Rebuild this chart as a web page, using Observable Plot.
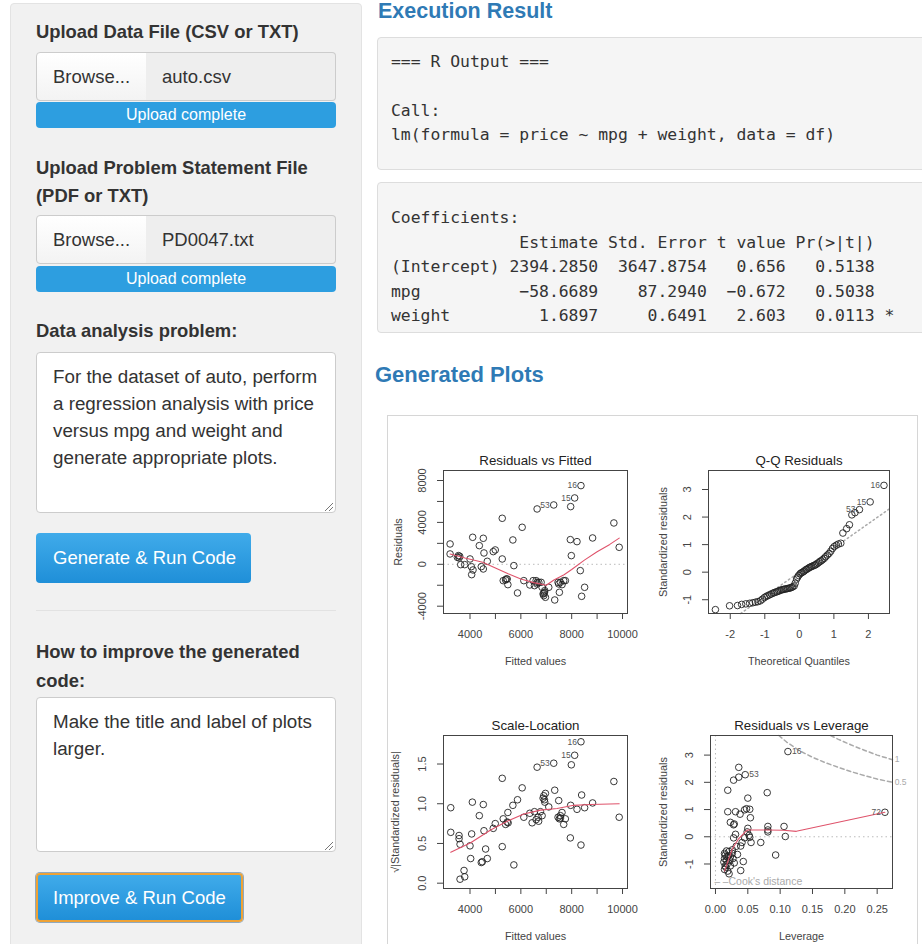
<!DOCTYPE html>
<html><head><meta charset="utf-8">
<script src="https://cdn.jsdelivr.net/npm/d3@7"></script>
<script src="https://cdn.jsdelivr.net/npm/@observablehq/plot@0.6"></script>
<style>
html,body{margin:0;padding:0}
body{width:922px;height:944px;overflow:hidden;background:#fff;font-family:"Liberation Sans",Arial,sans-serif;color:#333;position:relative}
.a{position:absolute;white-space:nowrap}
.panel{position:absolute;left:10px;top:3px;width:352px;height:990px;background:#f1f1f1;border:1px solid #e3e3e3;border-radius:4px;box-sizing:border-box}
.lbl{position:absolute;left:36px;font-weight:bold;font-size:18.4px;line-height:24px;color:#333;white-space:nowrap}
.browse{position:absolute;left:36px;width:111px;height:49px;border:1px solid #ccc;border-radius:4px 0 0 4px;background:linear-gradient(#fff,#f3f3f3);font-size:18.5px;line-height:47px;padding-left:16px;box-sizing:border-box;color:#333}
.fname{position:absolute;left:146px;width:190px;height:49px;border:1px solid #ccc;border-left:none;border-radius:0 4px 4px 0;background:#eee;font-size:18.5px;line-height:47px;padding-left:16px;box-sizing:border-box;color:#333}
.prog{position:absolute;left:36px;width:300px;height:26px;background:#2d9ee0;border-radius:4px;color:#fff;font-size:16px;line-height:26px;text-align:center}
.ta{position:absolute;left:36px;width:300px;border:1px solid #ccc;border-radius:4px;background:#fff;font-size:18.8px;line-height:27px;padding:9.5px 16px;box-sizing:border-box;color:#333;white-space:nowrap}
.btn{position:absolute;left:36px;border-radius:4px;color:#fff;font-size:18.5px;padding-left:17px;box-sizing:border-box;background:linear-gradient(#40abea,#1f8fd8);white-space:nowrap}
.pre{position:absolute;left:377px;width:600px;background:#f5f5f5;border:1px solid #ddd;border-radius:4px;font-family:"DejaVu Sans Mono",monospace;font-size:16.4px;line-height:24.5px;color:#333;padding:0 13px;margin:0;white-space:pre;overflow:hidden;box-sizing:border-box}
.h{position:absolute;font-weight:bold;color:#2f7ab5;white-space:nowrap}
.plotwrap{position:absolute}
</style></head>
<body>
<div class="panel"></div>
<div class="lbl" style="top:20px">Upload Data File (CSV or TXT)</div>
<div class="browse" style="top:52px">Browse...</div>
<div class="fname" style="top:52px">auto.csv</div>
<div class="prog" style="top:102px">Upload complete</div>
<div class="lbl" style="top:154px;line-height:28px">Upload Problem Statement File<br>(PDF or TXT)</div>
<div class="browse" style="top:215px">Browse...</div>
<div class="fname" style="top:215px">PD0047.txt</div>
<div class="prog" style="top:266px">Upload complete</div>
<div class="lbl" style="top:319px">Data analysis problem:</div>
<div class="ta" style="top:352px;height:161px">For the dataset of auto, perform<br>a regression analysis with price<br>versus mpg and weight and<br>generate appropriate plots.</div>
<svg class="a" style="left:322px;top:500px" width="12" height="12"><path d="M11 3 L3 11 M11 7 L7 11" stroke="#777" stroke-width="1"/></svg>
<div class="btn" style="top:533px;width:215px;height:50px;line-height:50px">Generate &amp; Run Code</div>
<div class="a" style="left:36px;top:610px;width:300px;height:1px;background:#e2e2e2"></div>
<div class="lbl" style="top:636.5px;line-height:29px">How to improve the generated<br>code:</div>
<div class="ta" style="top:697px;height:155px">Make the title and label of plots<br>larger.</div>
<svg class="a" style="left:322px;top:839px" width="12" height="12"><path d="M11 3 L3 11 M11 7 L7 11" stroke="#777" stroke-width="1"/></svg>
<div class="btn" style="top:873px;width:207px;height:49px;line-height:45px;border:2px solid #eea236;box-shadow:0 0 0 1px #8fa9bf;padding-left:15px">Improve &amp; Run Code</div>

<div class="h" style="left:378px;top:-1px;font-size:21.5px;line-height:24px">Execution Result</div>
<pre class="pre" style="top:37px;height:133px;padding-top:11.75px">=== R Output ===

Call:
lm(formula = price ~ mpg + weight, data = df)</pre>
<pre class="pre" style="top:182px;height:151px;padding-top:23px">Coefficients:
             Estimate Std. Error t value Pr(>|t|)  
(Intercept) 2394.2850  3647.8754   0.656   0.5138  
mpg          −58.6689    87.2940  −0.672   0.5038  
weight         1.6897     0.6491   2.603   0.0113 *</pre>
<div class="h" style="left:375px;top:362px;font-size:22px;line-height:26px">Generated Plots</div>
<div class="a" style="left:387px;top:415px;width:531px;height:560px;background:#fff;border:1px solid #d6d6d6;box-sizing:border-box"></div>
<div id="p1" class="plotwrap" style="left:390px;top:440px"></div>
<div id="p2" class="plotwrap" style="left:652px;top:440px"></div>
<div id="p3" class="plotwrap" style="left:390px;top:710px"></div>
<div id="p4" class="plotwrap" style="left:652px;top:710px"></div>

<script>
// ---------- Residuals vs Fitted ----------
const rfFitted = [3216,3216,3543,3569,3503,3634,3791,4000,4052,4118,4065,4105,4366,4523,4549,4444,4523,4680,4915,4993,5268,5268,5307,5425,5464,5490,5686,5725,5869,6052,6117,6353,6483,6536,6601,6640,6706,6640,6797,6836,6875,6902,6928,6967,6941,7098,7294,7333,7464,7516,7555,7620,7686,7751,7960,7947,7986,8117,8209,8339,8365,8392,8509,8823,9660,9869,6902,7490,5399,3595,6640];
const rfResid = [1942,987,828,605,668,-32,-32,509,-223,-541,-987,2578,1782,2483,1082,-223,-446,286,1210,1369,4393,509,-1560,-1401,-1401,-1942,2324,-127,-2737,3533,-1560,-1973,-1560,-2037,-1560,-1878,-1719,5284,-1719,-2196,-2833,-2992,-2674,-3151,-2515,-2196,5666,-3406,-1719,-2674,-1719,-1942,-1560,-1560,5507,2355,828,6334,2164,-605,7512,-3056,-2196,2515,3947,1623,-2770,-1878,-1496,764,-1719];
const rfSmoothX = [3216,3800,4500,5000,5500,6000,6500,7000,7300,7700,8000,8500,9000,9500,9869];
const rfSmoothY = [987,600,200,-350,-900,-1400,-1750,-2000,-1500,-1000,-500,400,1200,1900,2500];
const idLabels = ["53","15","16"];
const rfLabelX = [7294,8117,8365];
const rfLabelY = [5666,6334,7512];

// ---------- Q-Q Residuals ----------
const qqTheo = [-2.43,-2.02,-1.79,-1.67,-1.55,-1.44,-1.35,-1.27,-1.20,-1.13,-1.07,-1.01,-0.96,-0.91,-0.86,-0.81,-0.76,-0.72,-0.67,-0.63,-0.59,-0.55,-0.51,-0.47,-0.44,-0.40,-0.36,-0.33,-0.29,-0.26,-0.22,-0.19,-0.15,-0.12,-0.08,-0.05,-0.02,0.02,0.05,0.08,0.12,0.15,0.19,0.22,0.26,0.29,0.33,0.36,0.40,0.44,0.47,0.51,0.55,0.59,0.63,0.67,0.72,0.76,0.81,0.86,0.91,0.96,1.01,1.07,1.13,1.20,1.26,1.37,1.45,1.52,1.61,1.74,2.05,2.45];
const qqStd = [-1.36,-1.22,-1.21,-1.17,-1.15,-1.13,-1.11,-1.09,-1.07,-1.04,-0.98,-0.92,-0.88,-0.85,-0.82,-0.79,-0.76,-0.74,-0.72,-0.70,-0.68,-0.66,-0.64,-0.63,-0.62,-0.61,-0.60,-0.59,-0.58,-0.57,-0.55,-0.53,-0.50,-0.40,-0.25,-0.18,-0.12,-0.06,-0.03,-0.01,0.02,0.05,0.09,0.11,0.14,0.17,0.19,0.21,0.23,0.25,0.27,0.30,0.34,0.38,0.41,0.45,0.50,0.56,0.62,0.68,0.76,0.86,0.93,0.98,1.02,1.05,1.42,1.58,1.72,2.08,2.16,2.27,2.55,3.15];
const qqLineX = [-1.70,2.61];
const qqLineY = [-1.50,2.30];
const qqLabelX = [1.74,2.05,2.45];
const qqLabelY = [2.27,2.55,3.15];

// ---------- Scale-Location ----------
const slFitted = [3242,3242,3569,3569,3608,3608,3765,3791,4000,4065,4092,4026,4366,4444,4484,4523,4549,4614,4680,4915,4993,5268,5268,5307,5399,5464,5490,5686,5725,5869,6052,6117,6353,6444,6536,6601,6640,6679,6771,6836,6875,6902,6928,6967,6941,7098,7294,7333,7464,7490,7516,7555,7620,7686,7751,7960,7947,7986,8117,8209,8365,8365,8392,8509,8823,9660,9869,5500,6700,7560];
const slSqrt = [0.95,0.64,0.60,0.56,0.49,0.05,0.16,0.08,0.47,0.62,1.02,0.31,0.85,0.26,0.27,0.99,0.66,0.43,0.31,0.69,0.75,1.32,0.46,0.81,0.74,0.77,0.89,0.98,0.23,1.05,1.20,0.83,0.88,0.76,0.90,0.80,1.46,0.83,0.90,0.85,1.07,1.10,1.05,1.13,1.02,0.96,1.51,1.17,0.83,1.04,0.81,0.85,0.89,0.74,0.81,0.98,0.57,1.49,1.61,0.93,1.78,0.48,1.11,0.95,1.01,1.28,0.83,0.76,0.78,0.82];
const slSmoothX = [3242,4026,4810,5464,6117,6771,7425,8078,8731,9869];
const slSmoothY = [0.39,0.51,0.67,0.78,0.87,0.92,0.94,0.98,0.99,1.00];
const slLabelX = [7294,8117,8365];
const slLabelY = [1.51,1.61,1.78];

// ---------- Residuals vs Leverage ----------
const lvLev = [0.112,0.046,0.262,0.036,0.028,0.036,0.019,0.050,0.080,0.019,0.031,0.038,0.045,0.048,0.053,0.054,0.023,0.028,0.029,0.031,0.028,0.039,0.041,0.045,0.049,0.050,0.052,0.053,0.055,0.070,0.081,0.081,0.081,0.093,0.106,0.108,0.043,0.039,0.014,0.015,0.014,0.017,0.018,0.015,0.014,0.019,0.021,0.023,0.023,0.026,0.027,0.029,0.022,0.018,0.013,0.021,0.026,0.017,0.034,0.032,0.016,0.020];
const lvStd = [3.13,2.28,0.90,2.55,2.08,2.19,1.71,1.42,1.62,0.92,0.92,0.83,0.99,1.03,1.01,0.70,0.53,0.44,0.47,0.09,-0.04,-0.34,-0.21,-0.04,0.18,0.31,0.05,-0.02,-0.21,-0.21,0.38,0.25,0.18,-0.67,0.38,0.01,-0.91,-1.24,-0.61,-0.67,-0.80,-0.87,-1.00,-1.07,-1.20,-1.26,-1.36,-1.07,-0.74,-0.61,-0.80,-0.96,-0.87,-0.74,-0.93,-0.54,-0.48,-0.52,-0.65,-0.35,-1.12,-0.70];
const lvSmoothX = [0.014,0.020,0.026,0.035,0.046,0.050,0.080,0.105,0.125,0.262];
const lvSmoothY = [-1.26,-0.85,-0.45,-0.10,0.18,0.25,0.25,0.24,0.20,0.90];
const cook05X = [0.098,0.11,0.13,0.15,0.17,0.19,0.21,0.23,0.25,0.2737];
const cook05Y = [3.72,3.48,3.16,2.92,2.72,2.55,2.39,2.25,2.12,2.00];
const cook1X = [0.178,0.19,0.21,0.23,0.25,0.2737];
const cook1Y = [3.72,3.58,3.37,3.18,3.00,2.83];
const cookLevels = ["1","0.5"];
const cookLabelX = [0.277,0.277];
const cookLabelY = [2.83,2.00];
const lvRightIds = ["16","53"];
const lvRightX = [0.112,0.046];
const lvRightY = [3.13,2.28];
const lvLeftIds = ["72"];
const lvLeftX = [0.262];
const lvLeftY = [0.90];

// ---------- Ticks ----------
const fitTicks = [4000,5000,6000,7000,8000,9000,10000];
const fitTickLabels = [4000,6000,8000,10000];
const rfYTicks = [-4000,-2000,0,2000,4000,6000,8000];
const rfYTickLabels = [-4000,0,4000,8000];
const qqXTicks = [-2,-1,0,1,2];
const qqYTicks = [-1,0,1,2,3];
const slYTicks = [0,0.5,1,1.5];
const lvXTicks = [0,0.05,0.1,0.15,0.2,0.25];
const lvYTicks = [-1,0,1,2,3];

const RED = "#DF536B";
const idx = (a) => a.map((_, i) => i);
const C = {textAnchor: "middle", lineAnchor: "middle"};

function rplot(o) {
  const fx = o.xFmt || (d => String(d));
  const fy = o.yFmt || (d => String(d));
  return Plot.plot({
    width: o.w, height: o.h,
    marginLeft: o.ml, marginRight: o.mr, marginTop: o.mt, marginBottom: o.mb,
    x: {domain: o.xd, label: null},
    y: {domain: o.yd, label: null},
    style: {fontFamily: "'Liberation Sans', Arial, sans-serif", fontSize: "11px", color: "#333", background: "transparent", overflow: "visible"},
    marks: [
      ...o.marks,
      Plot.frame({stroke: "#444", strokeWidth: 1}),
      Plot.axisX({ticks: o.xt, tickSize: 6, tickFormat: () => "", stroke: "#444", label: null}),
      Plot.axisY({ticks: o.yt, tickSize: 6, tickFormat: () => "", stroke: "#444", label: null}),
      Plot.text(o.xl, {x: d => d, frameAnchor: "bottom", dy: 21, text: fx, fontSize: 11, fill: "#444", ...C}),
      Plot.text(o.yl, {y: d => d, frameAnchor: "left", dx: -21, rotate: -90, text: fy, fontSize: 11, fill: "#444", ...C}),
      Plot.text([o.title], {frameAnchor: "top", dy: -10, text: d => d, fontSize: 13.3, fill: "#222", ...C}),
      Plot.text([o.xlab], {frameAnchor: "bottom", dy: 48, text: d => d, fontSize: 10.8, fill: "#444", ...C}),
      Plot.text([o.ylab], {frameAnchor: "left", dx: o.ylabDx, rotate: -90, text: d => d, fontSize: 10.8, fill: "#444", ...C})
    ]
  });
}

const dotOpts = {r: 3.3, stroke: "#222", strokeWidth: 0.9, fill: "none"};
const idOpts = {fontSize: 8.5, fill: "#555", lineAnchor: "middle"};

// Plot 1
document.getElementById("p1").append(rplot({
  w: 262, h: 240, ml: 53, mr: 25, mt: 30, mb: 67,
  xd: [2957, 10196], yd: [-4697, 8955],
  xt: fitTicks, xl: fitTickLabels, yt: rfYTicks, yl: rfYTickLabels,
  title: "Residuals vs Fitted", xlab: "Fitted values", ylab: "Residuals", ylabDx: -45,
  marks: [
    Plot.ruleY([0], {stroke: "#bbb", strokeDasharray: "1.5,3"}),
    Plot.dot(idx(rfFitted), {x: i => rfFitted[i], y: i => rfResid[i], ...dotOpts}),
    Plot.line(idx(rfSmoothX), {x: i => rfSmoothX[i], y: i => rfSmoothY[i], stroke: RED, strokeWidth: 1.1}),
    Plot.text(idx(idLabels), {x: i => rfLabelX[i], y: i => rfLabelY[i], text: i => idLabels[i], textAnchor: "end", dx: -4, ...idOpts})
  ]
}));

// Plot 2
document.getElementById("p2").append(rplot({
  w: 262, h: 240, ml: 56, mr: 25, mt: 30, mb: 67,
  xd: [-2.63, 2.61], yd: [-1.50, 3.69],
  xt: qqXTicks, xl: qqXTicks, yt: qqYTicks, yl: qqYTicks,
  title: "Q-Q Residuals", xlab: "Theoretical Quantiles", ylab: "Standardized residuals", ylabDx: -45,
  marks: [
    Plot.line(idx(qqLineX), {x: i => qqLineX[i], y: i => qqLineY[i], stroke: "#aaa", strokeDasharray: "1.5,3"}),
    Plot.dot(idx(qqTheo), {x: i => qqTheo[i], y: i => qqStd[i], ...dotOpts}),
    Plot.text(idx(idLabels), {x: i => qqLabelX[i], y: i => qqLabelY[i], text: i => idLabels[i], textAnchor: "end", dx: -4, ...idOpts})
  ]
}));

// Plot 3
document.getElementById("p3").append(rplot({
  w: 262, h: 234, ml: 53, mr: 25, mt: 25, mb: 56,
  xd: [2957, 10196], yd: [-0.067, 1.859],
  xt: fitTicks, xl: fitTickLabels, yt: slYTicks, yl: slYTicks, yFmt: d => d.toFixed(1),
  title: "Scale-Location", xlab: "Fitted values", ylab: "√|Standardized residuals|", ylabDx: -48,
  marks: [
    Plot.dot(idx(slFitted), {x: i => slFitted[i], y: i => slSqrt[i], ...dotOpts}),
    Plot.line(idx(slSmoothX), {x: i => slSmoothX[i], y: i => slSmoothY[i], stroke: RED, strokeWidth: 1.1}),
    Plot.text(idx(idLabels), {x: i => slLabelX[i], y: i => slLabelY[i], text: i => idLabels[i], textAnchor: "end", dx: -4, ...idOpts})
  ]
}));

// Plot 4
document.getElementById("p4").append(rplot({
  w: 262, h: 234, ml: 58, mr: 22, mt: 25, mb: 56,
  xd: [-0.0077, 0.2737], yd: [-1.90, 3.72],
  xt: lvXTicks, xl: lvXTicks, yt: lvYTicks, yl: lvYTicks, xFmt: d => d.toFixed(2),
  title: "Residuals vs Leverage", xlab: "Leverage", ylab: "Standardized residuals", ylabDx: -47,
  marks: [
    Plot.ruleY([0], {stroke: "#bbb", strokeDasharray: "1.5,3"}),
    Plot.ruleX([0], {stroke: "#bbb", strokeDasharray: "1.5,3"}),
    Plot.line(idx(cook05X), {x: i => cook05X[i], y: i => cook05Y[i], stroke: "#aaa", strokeDasharray: "4,3"}),
    Plot.line(idx(cook1X), {x: i => cook1X[i], y: i => cook1Y[i], stroke: "#aaa", strokeDasharray: "4,3"}),
    Plot.text(idx(cookLevels), {x: i => cookLabelX[i], y: i => cookLabelY[i], text: i => cookLevels[i], textAnchor: "start", lineAnchor: "middle", fontSize: 8.5, fill: "#aaa"}),
    Plot.dot(idx(lvLev), {x: i => lvLev[i], y: i => lvStd[i], ...dotOpts}),
    Plot.line(idx(lvSmoothX), {x: i => lvSmoothX[i], y: i => lvSmoothY[i], stroke: RED, strokeWidth: 1.1}),
    Plot.text(idx(lvRightIds), {x: i => lvRightX[i], y: i => lvRightY[i], text: i => lvRightIds[i], textAnchor: "start", dx: 4, ...idOpts}),
    Plot.text(idx(lvLeftIds), {x: i => lvLeftX[i], y: i => lvLeftY[i], text: i => lvLeftIds[i], textAnchor: "end", dx: -4, ...idOpts}),
    Plot.text(["– –"], {frameAnchor: "bottom-left", dx: 4, dy: -7, text: d => d, textAnchor: "start", lineAnchor: "middle", fontSize: 10, fill: "#aaa"}),
    Plot.text(["Cook's distance"], {frameAnchor: "bottom-left", dx: 18, dy: -7, text: d => d, textAnchor: "start", lineAnchor: "middle", fontSize: 10.5, fill: "#aaa"})
  ]
}));
</script>
</body></html>
